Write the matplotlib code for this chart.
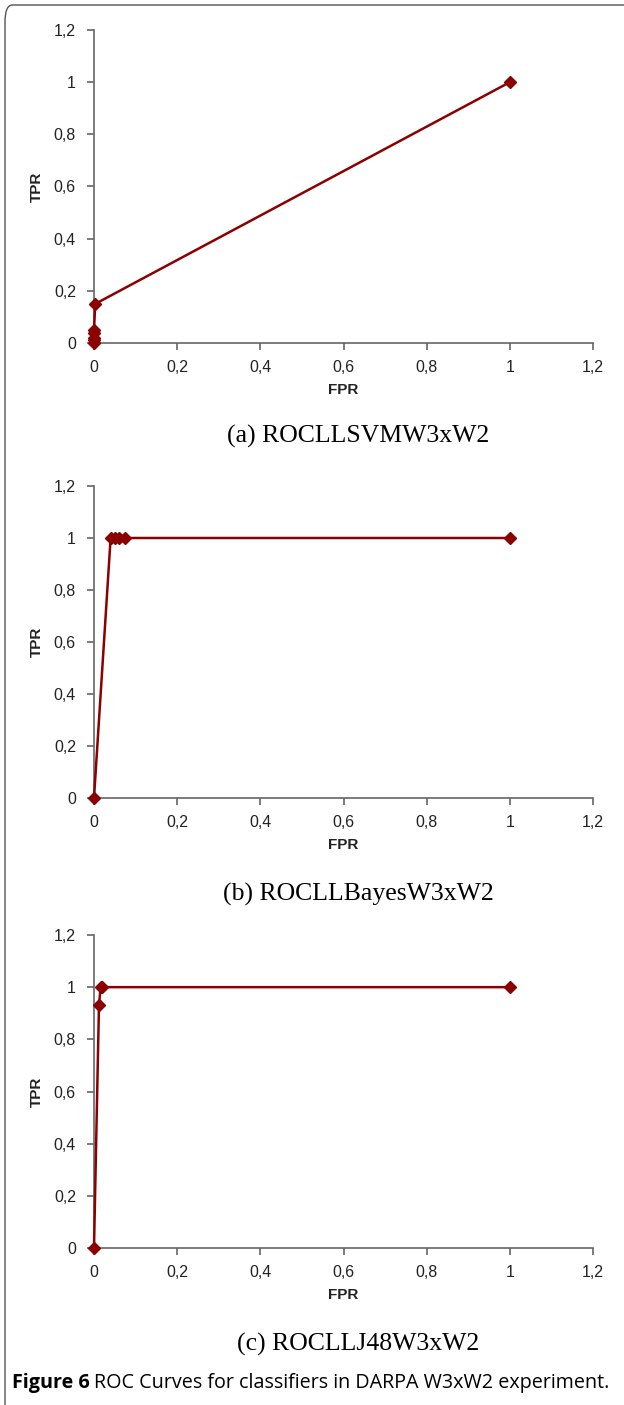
import matplotlib.pyplot as plt
from matplotlib.patches import FancyBboxPatch

# data
fpr_svm = [0, 0, 0, 0, 0, 0.003, 1]
tpr_svm = [0, 0.01, 0.02, 0.04, 0.05, 0.15, 1]

fpr_bayes = [0, 0.04, 0.05, 0.06, 0.075, 1]
tpr_bayes = [0, 1, 1, 1, 1, 1]

fpr_j48 = [0, 0.012, 0.016, 0.02, 1]
tpr_j48 = [0, 0.933, 1, 1, 1]

ticks = [0, 0.2, 0.4, 0.6, 0.8, 1, 1.2]
tick_labels = ['0', '0,2', '0,4', '0,6', '0,8', '1', '1,2']
captions = ['(a) ROCLLSVMW3xW2', '(b) ROCLLBayesW3xW2', '(c) ROCLLJ48W3xW2']

plt.rcParams['font.family'] = ['Liberation Sans', 'DejaVu Sans']

W, H = 624, 1405
fig = plt.figure(figsize=(W / 100, H / 100), dpi=100)

# outer rounded frame
frame = FancyBboxPatch((5 / W, -0.05), 1.2, 1.0 - 5 / H + 0.05,
                       boxstyle='round,pad=0,rounding_size=0.012',
                       transform=fig.transFigure, fill=False,
                       edgecolor='#555555', linewidth=1.0)
fig.patches.append(frame)

color = '#8b0000'
panels = [(fpr_svm, tpr_svm, 30, 343, 435),
          (fpr_bayes, tpr_bayes, 486, 798, 893),
          (fpr_j48, tpr_j48, 935, 1248, 1343)]

for (x, y, top, bottom, cap_y), cap in zip(panels, captions):
    left, right = 94, 593
    ax = fig.add_axes([left / W, 1 - bottom / H, (right - left) / W, (bottom - top) / H])
    ax.plot(x, y, '-', color=color, linewidth=1.8, marker='D', markersize=6.5,
            clip_on=False, zorder=3)
    ax.set_xlim(0, 1.2)
    ax.set_ylim(0, 1.2)
    ax.set_xticks(ticks)
    ax.set_xticklabels(tick_labels)
    ax.set_yticks(ticks)
    ax.set_yticklabels(tick_labels)
    for s in ['top', 'right']:
        ax.spines[s].set_visible(False)
    for s in ['left', 'bottom']:
        ax.spines[s].set_color('#666666')
        ax.spines[s].set_linewidth(1.2)
    ax.tick_params(axis='both', colors='#666666', labelcolor='#222222',
                   labelsize=11.5, length=5, width=1.2)
    ax.tick_params(axis='x', pad=7)
    ax.tick_params(axis='y', pad=8)
    ax.set_xlabel('FPR', fontsize=11, fontweight='bold', color='#222222', labelpad=6)
    ax.set_ylabel('TPR', fontsize=11, fontweight='bold', color='#222222', labelpad=7)
    fig.text(358 / W, 1 - (cap_y + 1) / H, cap, ha='center', va='center',
             fontsize=18.5, family=['Liberation Serif', 'DejaVu Serif'])

cap_font = ['Open Sans', 'DejaVu Sans']
t1 = fig.text(12 / W, 1 - 1383 / H, 'Figure 6', ha='left', va='center',
              fontsize=14.2, fontweight='bold', family=cap_font)
r = fig.canvas.get_renderer()
bb = t1.get_window_extent(renderer=r)
fig.text((bb.x1 + 4) / W, 1 - 1383 / H, 'ROC Curves for classifiers in DARPA W3xW2 experiment.',
         ha='left', va='center', fontsize=14.2, family=cap_font)

fig.savefig('out.png', dpi=100)
